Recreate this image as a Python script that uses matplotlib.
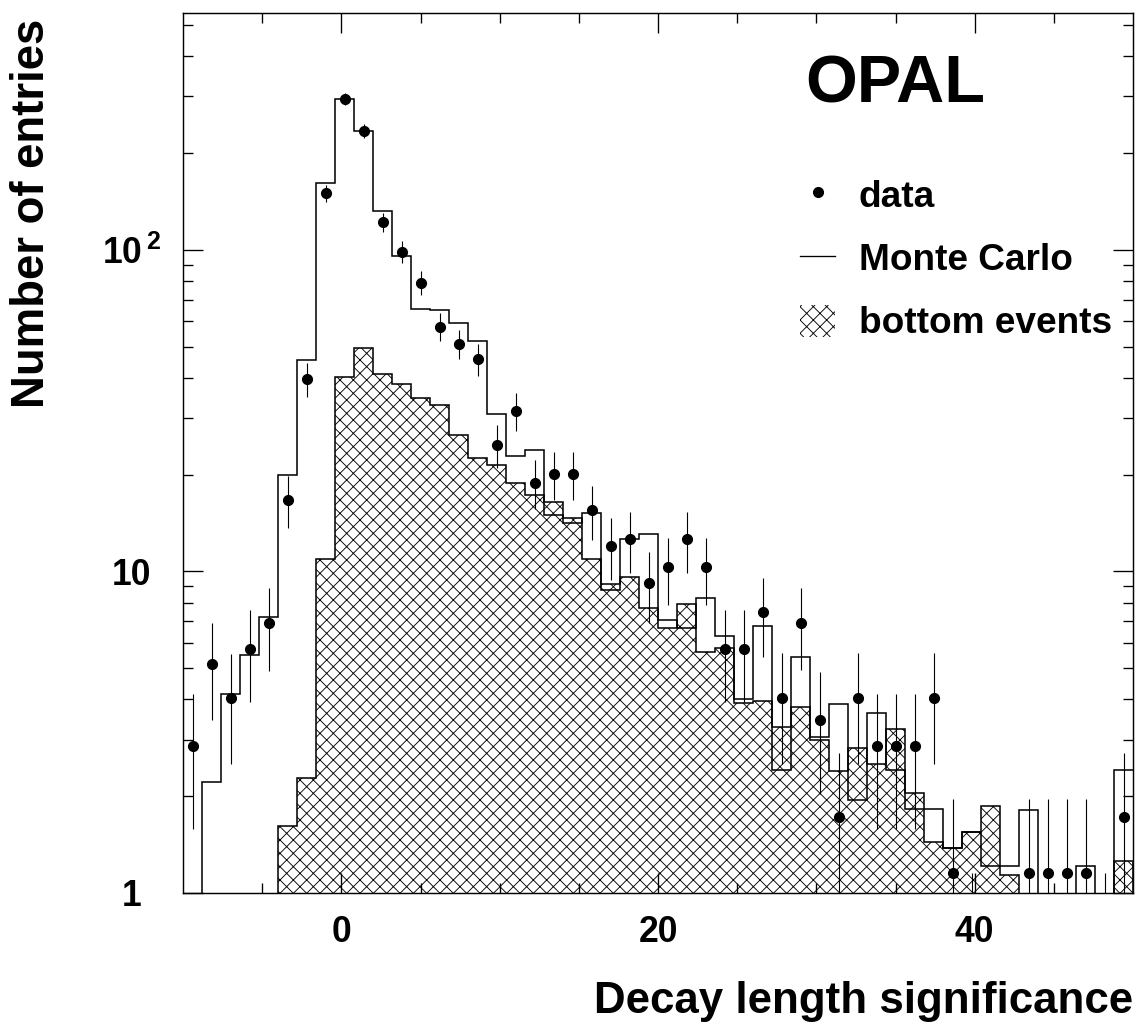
import numpy as np
import matplotlib
matplotlib.use('Agg')
import matplotlib.pyplot as plt
from matplotlib.lines import Line2D
from matplotlib.patches import Patch

plt.rcParams['font.family'] = ['Liberation Sans', 'DejaVu Sans']
plt.rcParams['font.weight'] = 'bold'
plt.rcParams['mathtext.fontset'] = 'custom'
plt.rcParams['mathtext.rm'] = 'Liberation Sans:bold'
plt.rcParams['mathtext.default'] = 'rm'
plt.rcParams['hatch.linewidth'] = 0.8

# binning: 50 bins between -10 and 50
x_lo, x_hi, n_bins = -10.0, 50.0, 50

# data (normalised entries per bin, 0 = empty) and errors
data = [2.87, 5.17, 4.03, 5.75, 6.90, 16.7, 39.7, 150, 295, 234,
        122, 98.8, 79.1, 57.7, 51.1, 45.7, 24.7, 31.6, 18.9, 20.1,
        20.1, 15.5, 12.0, 12.6, 9.21, 10.3, 12.6, 10.3, 5.74, 5.74,
        7.47, 4.04, 6.92, 3.44, 1.72, 4.04, 2.87, 2.87, 2.87, 4.04,
        1.15, 0.575, 0, 0, 1.15, 1.15, 1.15, 1.15, 0.575, 1.72]
data_err = [1.29, 1.73, 1.52, 1.82, 1.99, 3.10, 4.78, 9.29, 13.0, 11.6,
            8.37, 7.54, 6.75, 5.75, 5.42, 5.11, 3.77, 4.26, 3.30, 3.40,
            3.40, 2.99, 2.63, 2.70, 2.30, 2.44, 2.70, 2.44, 1.82, 1.82,
            2.07, 1.52, 1.99, 1.41, 1.00, 1.52, 1.29, 1.29, 1.29, 1.52,
            0.81, 0.575, 0, 0, 0.81, 0.81, 0.81, 0.81, 0.575, 1.00]

# Monte Carlo total
mc = [0, 2.21, 4.16, 5.49, 7.23, 19.9, 45.5, 161, 294, 234,
      132, 95.8, 65.4, 64.9, 59.4, 52.1, 30.9, 22.9, 23.9, 15.0,
      14.1, 15.2, 8.76, 12.6, 13.05, 7.07, 6.69, 8.26, 6.30, 4.01,
      6.77, 2.41, 5.43, 3.06, 3.88, 1.95, 3.62, 2.41, 1.82, 1.82,
      1.38, 1.55, 1.21, 1.21, 1.81, 0, 0, 1.21, 0, 2.42]

# Monte Carlo bottom events
bottom = [0, 0, 0, 0, 0, 1.62, 2.27, 10.9, 40.1, 49.5,
          41.1, 38.4, 34.7, 32.9, 26.5, 22.5, 21.4, 18.8, 17.3, 16.4,
          14.7, 10.9, 9.12, 9.64, 7.69, 6.69, 7.91, 5.63, 5.77, 3.89,
          3.96, 3.29, 3.78, 3.00, 2.40, 2.83, 2.51, 3.24, 2.04, 1.44,
          1.38, 1.55, 1.86, 1.14, 0, 0, 0, 0, 0, 1.26]

edges = np.linspace(x_lo, x_hi, n_bins + 1)
centers = 0.5 * (edges[:-1] + edges[1:])
data = np.array(data)
data_err = np.array(data_err)
# empty bins are pushed below the visible log range
mc_draw = np.clip(mc, 0.3, None)
bottom_draw = np.clip(bottom, 0.3, None)

fig = plt.figure(figsize=(14.2, 12.8375), dpi=80)
ax = fig.add_axes([0.1611, 0.1305, 0.8363, 0.8568])

ax.stairs(bottom_draw, edges, baseline=0.3, fill=True, facecolor='none',
          edgecolor='black', hatch='xx', linewidth=1.4, zorder=2)
ax.stairs(mc_draw, edges, baseline=None, color='black', linewidth=1.4, zorder=3)

m = data > 0
ax.errorbar(centers[m], data[m], yerr=data_err[m], fmt='o', color='black',
            markersize=9, elinewidth=1.0, capsize=0, zorder=4)

ax.set_yscale('log')
ax.set_xlim(x_lo, x_hi)
ax.set_ylim(1, 545)

ax.set_xticks([0, 20, 40])
ax.set_xticks(np.arange(-5, 50, 5), minor=True)
ax.set_yticks([1, 10, 100])
ax.set_yticklabels(['1', '10', r'$10^{\,2}$'])
ax.yaxis.set_minor_formatter(matplotlib.ticker.NullFormatter())
ax.tick_params(which='both', direction='in', top=True, right=True, width=1.2)
ax.tick_params(which='major', length=18)
ax.tick_params(which='minor', length=9)
ax.tick_params(axis='x', which='major', labelsize=32, pad=20)
ax.tick_params(axis='y', which='major', labelsize=32, pad=46)
for lab in ax.get_yticklabels():
    lab.set_horizontalalignment('center')
for s in ax.spines.values():
    s.set_linewidth(1.3)

fig.text(0.9974, 1 - 1013 / 1027, 'Decay length significance', ha='right',
         va='baseline', fontsize=39.5, fontweight='bold')
fig.text(32 / 1136, 1 - 19 / 1027, 'Number of entries', ha='center', va='top',
         rotation=90, fontsize=41, fontweight='bold')

ax.text(0.655, 0.918, 'OPAL', transform=ax.transAxes, fontsize=60,
        fontweight='bold', ha='left', va='center')

handles = [
    Line2D([], [], marker='o', linestyle='none', color='black', markersize=9),
    Line2D([], [], color='black', linewidth=1.2),
    Patch(facecolor='none', edgecolor='black', hatch='xx', linewidth=0),
]
ax.legend(handles, ['data', 'Monte Carlo', 'bottom events'],
          loc='upper left', bbox_to_anchor=(800 / 1136, 1 - 178 / 1027),
          bbox_transform=fig.transFigure, frameon=False, fontsize=33.3,
          handlelength=0.95, handleheight=0.95, handletextpad=0.64,
          labelspacing=0.72, borderpad=0, borderaxespad=0)

fig.savefig('out.png', dpi=80)
